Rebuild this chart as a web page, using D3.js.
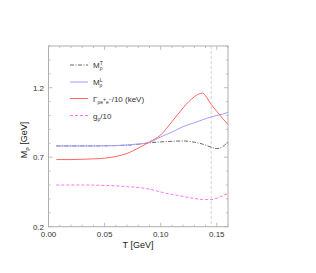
<!DOCTYPE html>
<html><head><meta charset="utf-8">
<script src="https://cdn.jsdelivr.net/npm/d3@7"></script>
<style>body{margin:0;background:#fff}svg{display:block}text{font-family:"Liberation Sans",Arial,sans-serif}</style>
</head><body><svg id="c" width="316" height="273"></svg>
<script>
const T      = [0.007,0.02,0.03,0.04,0.05,0.06,0.07,0.08,0.09,0.10,0.11,0.12,0.13,0.137,0.145,0.15,0.155,0.16];
const MT     = [0.781,0.781,0.781,0.781,0.782,0.783,0.786,0.793,0.803,0.810,0.814,0.817,0.808,0.795,0.772,0.762,0.775,0.810];
const ML     = [0.781,0.781,0.781,0.781,0.782,0.784,0.788,0.795,0.806,0.846,0.880,0.920,0.948,0.968,0.990,1.000,1.010,1.022];
const Gamma  = [0.683,0.683,0.685,0.688,0.693,0.705,0.727,0.765,0.810,0.860,0.955,1.055,1.135,1.161,1.080,1.030,0.980,0.935];
const G      = [0.500,0.500,0.500,0.499,0.497,0.494,0.488,0.482,0.470,0.450,0.432,0.418,0.403,0.396,0.395,0.405,0.422,0.440];
const xTicks = [0.00,0.05,0.10,0.15];
const yTicks = [0.2,0.7,1.2];
const Tc = 0.145;

const svg = d3.select("#c");
const m = {l:48.5,r:228,t:46,b:226.7};
const x = d3.scaleLinear().domain([0,0.16]).range([m.l,m.r]);
const y = d3.scaleLinear().domain([0.2,1.5]).range([m.b,m.t]);
const axisCol = "#b0b0b0";

const g = svg.append("g");
const xMinor = d3.range(0,0.1601,0.01), yMinor = d3.range(0.2,1.501,0.1);
xMinor.forEach(v=>{
  const major = xTicks.some(t=>Math.abs(t-v)<1e-6), L = major?4:2;
  g.append("line").attr("x1",x(v)).attr("x2",x(v)).attr("y1",m.b).attr("y2",m.b-L).attr("stroke",axisCol).attr("stroke-width",0.8);
  g.append("line").attr("x1",x(v)).attr("x2",x(v)).attr("y1",m.t).attr("y2",m.t+L).attr("stroke",axisCol).attr("stroke-width",0.8);
});
yMinor.forEach(v=>{
  const major = yTicks.some(t=>Math.abs(t-v)<1e-6), L = major?4:2;
  g.append("line").attr("y1",y(v)).attr("y2",y(v)).attr("x1",m.l).attr("x2",m.l+L).attr("stroke",axisCol).attr("stroke-width",0.8);
  g.append("line").attr("y1",y(v)).attr("y2",y(v)).attr("x1",m.r).attr("x2",m.r-L).attr("stroke",axisCol).attr("stroke-width",0.8);
});
svg.append("rect").attr("x",m.l).attr("y",m.t).attr("width",m.r-m.l).attr("height",m.b-m.t)
  .attr("fill","none").attr("stroke",axisCol).attr("stroke-width",1);

xTicks.forEach(v=>svg.append("text").attr("x",x(v)).attr("y",237).attr("text-anchor","middle")
  .attr("font-size",8).attr("fill","#333").text(d3.format(".2f")(v)));
yTicks.forEach(v=>svg.append("text").attr("x",44).attr("y",y(v)+3).attr("text-anchor","end")
  .attr("font-size",8).attr("fill","#333").text(d3.format(".1f")(v)));

svg.append("text").attr("x",138).attr("y",248).attr("text-anchor","middle").attr("font-size",9).attr("fill","#222").text("T [GeV]");
const yl = svg.append("text").attr("transform","translate(27,140) rotate(-90)").attr("text-anchor","middle").attr("font-size",9).attr("fill","#222");
yl.append("tspan").text("M");
yl.append("tspan").attr("font-size",6).attr("dy",2).text("ρ");
yl.append("tspan").attr("dy",-2).text(" [GeV]");

svg.append("line").attr("x1",x(Tc)).attr("x2",x(Tc)).attr("y1",m.t).attr("y2",m.b)
  .attr("stroke","#c8c8c8").attr("stroke-width",0.8).attr("stroke-dasharray","3,2");

const line = arr => d3.line().x((d,i)=>x(T[i])).y((d,i)=>y(arr[i])).curve(d3.curveMonotoneX)(arr);
const series = [
  {v:MT, c:"#666", dash:"4,1.5,1,1.5"},
  {v:ML, c:"#a0a0ff", dash:null},
  {v:Gamma, c:"#ff6666", dash:null},
  {v:G, c:"#ff70ff", dash:"3,2"}
];
series.forEach(s=>{
  const p = svg.append("path").attr("d",line(s.v)).attr("fill","none").attr("stroke",s.c).attr("stroke-width",1);
  if(s.dash) p.attr("stroke-dasharray",s.dash);
});

const ly = [65,82,98.5,115.5];
series.forEach((s,i)=>{
  const p = svg.append("line").attr("x1",70).attr("x2",88).attr("y1",ly[i]).attr("y2",ly[i]).attr("stroke",s.c).attr("stroke-width",1);
  if(s.dash) p.attr("stroke-dasharray",s.dash);
});
function lt(i){return svg.append("text").attr("x",93).attr("y",ly[i]+3).attr("font-size",8).attr("fill","#333");}
let t0 = lt(0); t0.append("tspan").text("M"); t0.append("tspan").attr("font-size",5).attr("dy",-3).text("T");
t0.append("tspan").attr("font-size",5).attr("dx",-3).attr("dy",5).text("ρ");
let t1 = lt(1); t1.append("tspan").text("M"); t1.append("tspan").attr("font-size",5).attr("dy",-3).text("L");
t1.append("tspan").attr("font-size",5).attr("dx",-3).attr("dy",5).text("ρ");
let t2 = lt(2); t2.append("tspan").text("Γ"); t2.append("tspan").attr("font-size",5).attr("dy",2).text("ρe");
t2.append("tspan").attr("font-size",5).attr("dy",-3).text("+");
t2.append("tspan").attr("font-size",5).attr("dy",3).text("e");
t2.append("tspan").attr("font-size",5).attr("dy",-3).text("−");
t2.append("tspan").attr("dy",1).text("/10 (keV)");
let t3 = lt(3); t3.append("tspan").text("g"); t3.append("tspan").attr("font-size",5).attr("dy",2).text("ρ");
t3.append("tspan").attr("dy",-2).text("/10");
</script></body></html>
